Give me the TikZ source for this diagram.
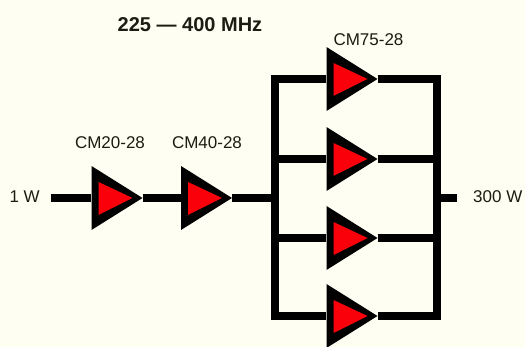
\documentclass[tikz,border=0pt]{standalone}
\usepackage{fontspec}
\setmainfont{Liberation Sans}
\usetikzlibrary{calc}
\definecolor{bgcream}{RGB}{255,254,242}
\definecolor{ink}{RGB}{28,28,18}
\definecolor{ampred}{RGB}{250,0,10}
\pgfdeclarelayer{bg}
\pgfsetlayers{bg,main}
\begin{document}
\begin{tikzpicture}[x=1pt,y=-1pt,
  wire/.style={draw=black,line width=8.6pt,line join=miter},
  amp/.style={inner sep=0pt,minimum width=51pt,minimum height=64pt,
    path picture={
      \fill[black] (path picture bounding box.north west) -- (path picture bounding box.south west) -- (path picture bounding box.east) -- cycle;
      \fill[ampred] ($(path picture bounding box.north west)+(7,16)$) -- ($(path picture bounding box.south west)+(7,-15)$) -- ($(path picture bounding box.east)+(-10,0)$) -- cycle;
    }},
  lbl/.style={text=ink,font=\fontsize{17}{20}\selectfont,inner sep=0pt},
  ttl/.style={text=ink,font=\fontsize{20}{24}\selectfont\bfseries,inner sep=0pt}]
\begin{pgfonlayer}{bg}
\fill[bgcream] (0,0) rectangle (525,347);
\end{pgfonlayer}
\useasboundingbox (0,0) rectangle (525,347);
% coordinates
\coordinate (in) at (51,198);
\coordinate (J) at (275,198);
\coordinate (Lt) at (275,79);
\coordinate (Lb) at (275,316);
\coordinate (Rt) at (437,79);
\coordinate (Rb) at (437,316);
\coordinate (Rm) at (437,198);
\coordinate (out) at (457,198);
% amplifiers
\node[amp] (a1) at (117,198) {};
\node[amp] (a2) at (206.5,198) {};
\node[amp] (p1) at (352,79) {};
\node[amp] (p2) at (352,159) {};
\node[amp] (p3) at (352,238) {};
\node[amp] (p4) at (352,316) {};
% wires behind the amplifiers
\begin{pgfonlayer}{bg}
\path[wire] (in) -- (a1.west);
\path[wire] (a1.east) -- (a2.west);
\path[wire] (a2.east) -- (J);
\path[wire] (p1.west) -- (Lt) -- (Lb) -- (p4.west);
\path[wire] (p1.east) -- (Rt) -- (Rb) -- (p4.east);
\path[wire] (p2.west) -- (p2.west -| Lt);
\path[wire] (p3.west) -- (p3.west -| Lt);
\path[wire] (p2.east) -- (p2.east -| Rt);
\path[wire] (p3.east) -- (p3.east -| Rt);
\path[wire] (Rm) -- (out);
\end{pgfonlayer}
% labels
\node[lbl] (l1) at (110,143) {CM20-28};
\node[lbl] (l2) at (207,143) {CM40-28};
\node[lbl] (l3) at (368.5,40) {CM75-28};
\node[lbl,anchor=east] (lin) at (40,197) {1 W};
\node[lbl,anchor=west] (lout) at (473,197) {300 W};
\node[ttl] (title) at (190,25) {225 — 400 MHz};
\end{tikzpicture}
\end{document}
